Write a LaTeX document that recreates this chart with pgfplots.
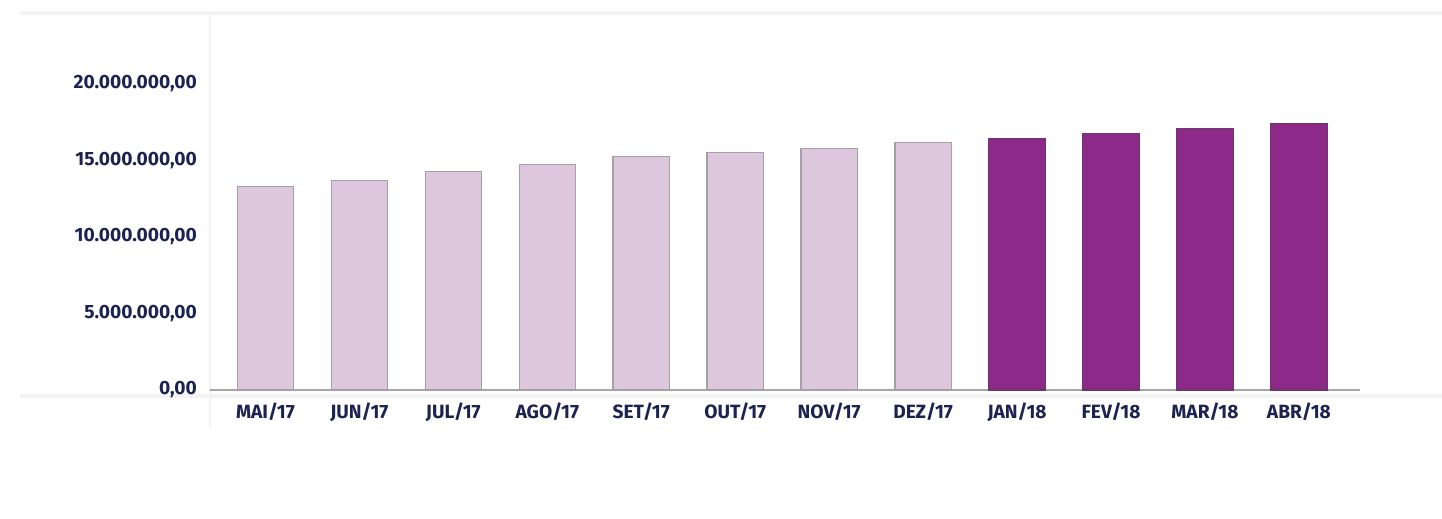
\documentclass[border=0pt]{standalone}
\usepackage{pgfplots}
\pgfplotsset{compat=1.18}
\usepackage{fontspec}
\setmainfont{Fira Sans}
\definecolor{txt}{RGB}{28,35,80}
\definecolor{lightbar}{RGB}{221,199,221}
\definecolor{lightedge}{RGB}{165,160,165}
\definecolor{darkbar}{RGB}{141,42,137}
\definecolor{darkedge}{RGB}{105,55,105}
\definecolor{frame}{RGB}{243,243,243}
\begin{document}
\begin{tikzpicture}
\useasboundingbox (0,0) rectangle (721pt,259.5pt);
\fill[white] (0,0) rectangle (721pt,259.5pt);
\draw[frame,line width=2pt] (10pt,253pt) -- (721pt,253pt);
\draw[frame,line width=2pt] (10pt,61.5pt) -- (721pt,61.5pt);
\draw[frame,line width=1.2pt] (105pt,252pt) -- (105pt,45.5pt);
\begin{axis}[
  at={(105pt,64.5pt)}, anchor=south west,
  scale only axis, width=575pt, height=187.5pt,
  xmin=-0.59, xmax=11.65, ymin=0, ymax=24.5e6,
  axis x line*=bottom, axis y line*=left,
  x axis line style={draw=gray!70, line width=0.8pt, -},
  y axis line style={draw=none},
  xtick={0,1,2,3,4,5,6,7,8,9,10,11}, xtick style={draw=none},
  xticklabels={MAI/17,JUN/17,JUL/17,AGO/17,SET/17,OUT/17,NOV/17,DEZ/17,JAN/18,FEV/18,MAR/18,ABR/18},
  ytick={0,5e6,10e6,15e6,20e6},
  scaled y ticks=false,
  yticklabel style={/pgf/number format/fixed, /pgf/number format/fixed zerofill, /pgf/number format/precision=2, /pgf/number format/use comma, /pgf/number format/1000 sep={.}, xshift=-3pt},
  /pgf/number format/assume math mode=true,
  ticklabel style={font=\fontsize{9.6}{11}\selectfont\bfseries, text=txt},
  xticklabel style={yshift=-3pt},
  ytick style={draw=none},
  clip=false,
]
\addplot[ybar, bar width=0.6, fill=lightbar, draw=lightedge, line width=0.6pt]
 coordinates {(0,13.29e6) (1,13.71e6) (2,14.27e6) (3,14.75e6) (4,15.25e6) (5,15.53e6) (6,15.79e6) (7,16.16e6)};
\addplot[ybar, bar width=0.6, fill=darkbar, draw=darkedge, line width=0.6pt]
 coordinates {(8,16.45e6) (9,16.78e6) (10,17.08e6) (11,17.39e6)};
\end{axis}
\end{tikzpicture}
\end{document}
